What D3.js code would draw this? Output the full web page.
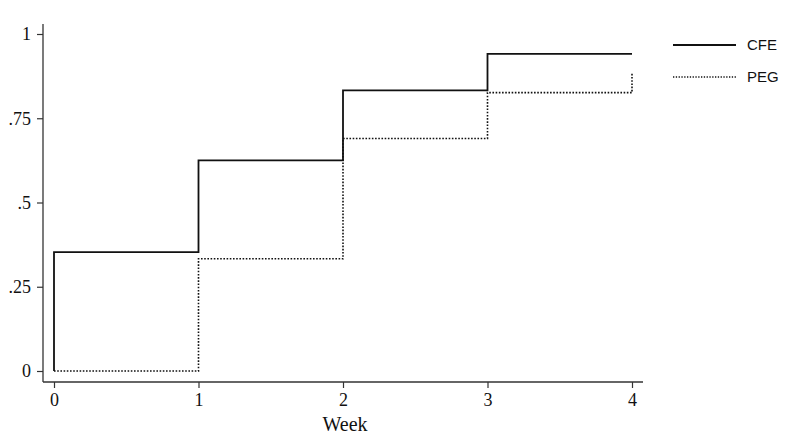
<!DOCTYPE html>
<html>
<head>
<meta charset="utf-8">
<script src="https://cdn.jsdelivr.net/npm/d3@7"></script>
<style>
  body { margin: 0; background: #fff; }
  .tick text { font-family: "Liberation Serif", "DejaVu Serif", serif; }
</style>
</head>
<body>
<div id="chart"></div>
<script>
// step points (week, cumulative proportion)
var cfeWeeks = [0, 0, 1, 2, 3, 4];
var cfeValues = [0, 0.353, 0.625, 0.833, 0.941, 0.941];
var pegWeeks = [0, 1, 2, 3, 4, 4];
var pegValues = [0, 0.333, 0.69, 0.826, 0.826, 0.885];

var xTicks = [0, 1, 2, 3, 4];
var yTicks = [0, 0.25, 0.5, 0.75, 1];
var yTickLabels = ["0", ".25", ".5", ".75", "1"];
var seriesNames = ["CFE", "PEG"];

var svgWidth = 791;
var svgHeight = 444;

var svg = d3.select("#chart")
  .append("svg")
  .attr("width", svgWidth)
  .attr("height", svgHeight);

var xScale = d3.scaleLinear().domain([0, 4]).range([54, 632]);
var yScale = d3.scaleLinear().domain([0, 1]).range([371, 34]);

var axisColor = "#333";

// axis lines
svg.append("line")
  .attr("x1", 43).attr("x2", 43)
  .attr("y1", 24).attr("y2", 382)
  .attr("stroke", axisColor).attr("stroke-width", 1.3);
svg.append("line")
  .attr("x1", 43).attr("x2", 643)
  .attr("y1", 382).attr("y2", 382)
  .attr("stroke", axisColor).attr("stroke-width", 1.3);

// x axis
var xAxis = d3.axisBottom(xScale)
  .tickValues(xTicks)
  .tickFormat(d3.format("d"))
  .tickSize(6)
  .tickPadding(5);

var xg = svg.append("g")
  .attr("transform", "translate(0,382)")
  .call(xAxis);
xg.select(".domain").remove();
xg.selectAll("line").attr("stroke", axisColor).attr("stroke-width", 1.2);
xg.selectAll("text").attr("font-size", 18).attr("fill", "#111");

// y axis
var yAxis = d3.axisLeft(yScale)
  .tickValues(yTicks)
  .tickFormat((d, i) => yTickLabels[i])
  .tickSize(6)
  .tickPadding(6);

var yg = svg.append("g")
  .attr("transform", "translate(43,0)")
  .call(yAxis);
yg.select(".domain").remove();
yg.selectAll("line").attr("stroke", axisColor).attr("stroke-width", 1.2);
yg.selectAll("text").attr("font-size", 18).attr("fill", "#111");

// x axis title
svg.append("text")
  .attr("x", 345)
  .attr("y", 431)
  .attr("text-anchor", "middle")
  .attr("font-family", "Liberation Serif, DejaVu Serif, serif")
  .attr("font-size", 20)
  .attr("fill", "#111")
  .text("Week");

// step lines
var line = d3.line()
  .x(d => xScale(d[0]))
  .y(d => yScale(d[1]))
  .curve(d3.curveStepAfter);

var cfeData = cfeWeeks.map((w, i) => [w, cfeValues[i]]);
var pegData = pegWeeks.map((w, i) => [w, pegValues[i]]);

svg.append("path")
  .datum(pegData)
  .attr("d", line)
  .attr("fill", "none")
  .attr("stroke", "#111")
  .attr("stroke-width", 1.6)
  .attr("stroke-dasharray", "1.6,1.6");

svg.append("path")
  .datum(cfeData)
  .attr("d", line)
  .attr("fill", "none")
  .attr("stroke", "#111")
  .attr("stroke-width", 1.8);

// legend
var legend = svg.append("g");
seriesNames.forEach(function(name, i) {
  var ly = 45 + i * 32;
  legend.append("line")
    .attr("x1", 673).attr("x2", 736)
    .attr("y1", ly).attr("y2", ly)
    .attr("stroke", "#111")
    .attr("stroke-width", i === 0 ? 1.8 : 1.3)
    .attr("stroke-dasharray", i === 0 ? null : "1.3,1.5");
  legend.append("text")
    .attr("x", 747)
    .attr("y", ly + 5)
    .attr("font-family", "Liberation Sans, Arial, sans-serif")
    .attr("font-size", 15)
    .attr("fill", "#111")
    .text(name);
});
</script>
</body>
</html>
